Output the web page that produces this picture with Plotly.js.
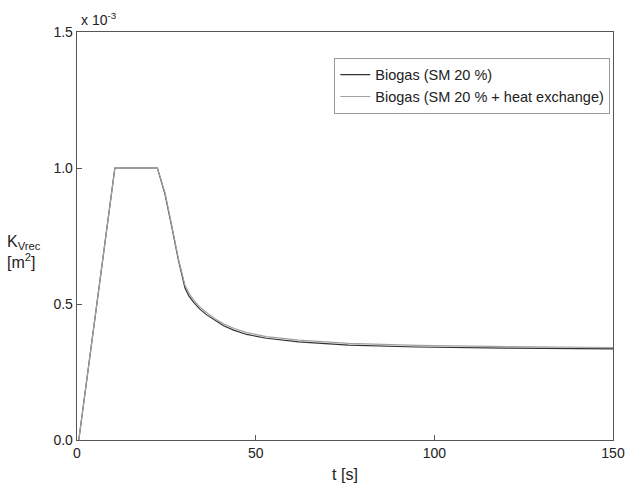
<!DOCTYPE html>
<html>
<head>
<meta charset="utf-8">
<script src="https://cdn.plot.ly/plotly-3.0.1.min.js"></script>
<style>html,body{margin:0;padding:0;background:#fff;}#chart{width:625px;height:491px;}</style>
</head>
<body>
<div id="chart"></div>
<script>
// time [s]
const tBase = [0.5, 10.6, 22.5, 24.6, 26.5, 28.4, 30.2, 31.3, 32.6, 34.3, 36.3, 38.5, 41, 44, 47.5, 53, 62, 76, 95, 120, 150];
const tHeat = [0.5, 10.6, 22.5, 24.6, 26.5, 28.4, 30.2, 31.3, 32.6, 34.3, 36.3, 38.5, 41, 44, 47.5, 53, 62, 76, 95, 120, 150];
// K_Vrec values in units of 1e-3 m^2
const kBase = [0, 1.0, 1.0, 0.905, 0.785, 0.66, 0.56, 0.53, 0.507, 0.482, 0.46, 0.44, 0.42, 0.403, 0.388, 0.374, 0.361, 0.349, 0.342, 0.338, 0.335];
const kHeat = [0, 1.0, 1.0, 0.91, 0.79, 0.665, 0.57, 0.54, 0.515, 0.49, 0.468, 0.447, 0.427, 0.41, 0.395, 0.38, 0.367, 0.355, 0.348, 0.343, 0.34];
const seriesNames = ["Biogas (SM 20 %)", "Biogas (SM 20 % + heat exchange)"];
const xTicks = [0, 50, 100, 150];
const yTicks = [0, 0.5, 1.0, 1.5];
const yTickText = ["0.0", "0.5", "1.0", "1.5"];

const ff = "Liberation Sans, Arial, sans-serif";
const font = {family: ff, color: "#222", size: 14};

const traces = [
  {x: tBase, y: kBase, name: seriesNames[0], mode: "lines", line: {color: "#333333", width: 1.2}},
  {x: tHeat, y: kHeat, name: seriesNames[1], mode: "lines", line: {color: "#a0a0a0", width: 1.2}}
];

const axisCommon = {
  showline: true, linecolor: "#555", linewidth: 1.3, mirror: true,
  ticks: "inside", ticklen: 5, tickcolor: "#555", showgrid: false, zeroline: false,
  tickfont: font
};

const layout = {
  width: 625, height: 491,
  margin: {l: 77, r: 12, t: 32, b: 51},
  paper_bgcolor: "#fff", plot_bgcolor: "#fff",
  font: font,
  showlegend: true,
  legend: {
    x: 0.995, xanchor: "right", y: 0.937, yanchor: "top",
    bordercolor: "#999", borderwidth: 1, bgcolor: "#fff",
    itemwidth: 30,
    font: {family: ff, size: 14.5, color: "#222"},
    tracegroupgap: 0
  },
  xaxis: Object.assign({}, axisCommon, {
    range: [0, 150], tickvals: xTicks, ticktext: xTicks.map(String),
    title: {text: "t [s]", font: {family: ff, size: 16, color: "#222"}, standoff: 8}
  }),
  yaxis: Object.assign({}, axisCommon, {
    range: [0, 1.5], tickvals: yTicks, ticktext: yTickText
  }),
  annotations: [
    {xref: "paper", yref: "paper", x: 0, y: 1, xanchor: "left", yanchor: "bottom", xshift: 2, yshift: 2,
     text: "x 10<sup>-3</sup>", showarrow: false, font: {family: ff, size: 14, color: "#222"}},
    {xref: "paper", yref: "paper", x: 0, y: 0.5, xanchor: "left", yanchor: "middle", xshift: -72, yshift: -16,
     text: "K<sub>Vrec</sub><br>[m<sup>2</sup>]", align: "left", showarrow: false,
     font: {family: ff, size: 16, color: "#222"}}
  ]
};

Plotly.newPlot("chart", traces, layout, {displayModeBar: false, staticPlot: true});
</script>
</body>
</html>
